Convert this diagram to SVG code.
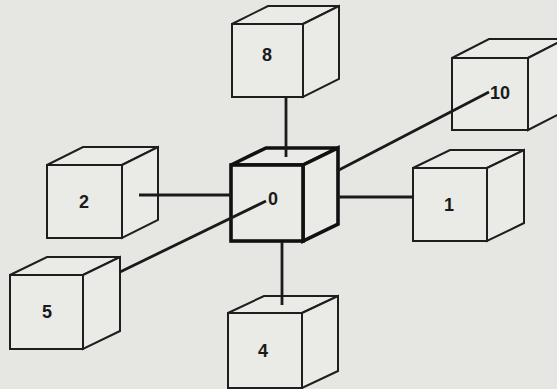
<svg xmlns="http://www.w3.org/2000/svg" width="557" height="389" viewBox="0 0 557 389">
<style>
.bg{fill:#e6e6e3}
.face{fill:#eaeae7;stroke:#1e1e1e;stroke-width:2;stroke-linejoin:miter}
.main .face{stroke:#111;stroke-width:3.6}
.lbl{font-family:"Liberation Sans",Arial,sans-serif;font-weight:bold;font-size:18px;fill:#1a1a1a;text-anchor:middle}
.conn line{stroke:#1a1a1a;stroke-width:2.8;stroke-linecap:butt}
</style>
<rect class="bg" x="0" y="0" width="557" height="389"/>

<g id="node8">
<path class="face" d="M232,24 L268,6 L339,6 L303,24 Z"/>
<path class="face" d="M303,24 L339,6 L339,79 L303,97 Z"/>
<rect class="face" x="232" y="24" width="71" height="73"/>
<text class="lbl" x="267" y="61">8</text>
</g>

<g id="node10">
<path class="face" d="M452,58 L489,39 L565,39 L528,58 Z"/>
<path class="face" d="M528,58 L565,39 L565,111 L528,130 Z"/>
<rect class="face" x="452" y="58" width="76" height="72"/>
</g>

<g id="node1">
<path class="face" d="M413,168 L450,150 L524,150 L487,168 Z"/>
<path class="face" d="M487,168 L524,150 L524,223 L487,241 Z"/>
<rect class="face" x="413" y="168" width="74" height="73"/>
<text class="lbl" x="449" y="211">1</text>
</g>

<g id="node2">
<path class="face" d="M47,165 L83,147 L158,147 L122,165 Z"/>
<path class="face" d="M122,165 L158,147 L158,220 L122,238 Z"/>
<rect class="face" x="47" y="165" width="75" height="73"/>
<text class="lbl" x="84" y="208">2</text>
</g>

<g id="node5">
<path class="face" d="M10,275 L47,257 L120,257 L83,275 Z"/>
<path class="face" d="M83,275 L120,257 L120,331 L83,349 Z"/>
<rect class="face" x="10" y="275" width="73" height="74"/>
<text class="lbl" x="47" y="318">5</text>
</g>

<g id="node4">
<path class="face" d="M228,313 L264,296 L338,296 L302,313 Z"/>
<path class="face" d="M302,313 L338,296 L338,371 L302,388 Z"/>
<rect class="face" x="228" y="313" width="74" height="75"/>
<text class="lbl" x="263" y="357">4</text>
</g>

<g id="node0" class="main">
<path class="face" d="M231,165 L266,148 L338,148 L303,165 Z"/>
<path class="face" d="M303,165 L338,148 L338,224 L303,241 Z"/>
<rect class="face" x="231" y="165" width="72" height="76"/>
</g>

<g id="connectors" class="conn">
<line x1="286" y1="97" x2="286" y2="157"/>
<line x1="282" y1="242" x2="282" y2="305"/>
<line x1="139" y1="195" x2="231" y2="195"/>
<line x1="338" y1="197" x2="413" y2="197"/>
<line x1="337" y1="171" x2="489" y2="92"/>
<line x1="120" y1="272" x2="266" y2="201"/>
</g>

<text class="lbl" x="273" y="205">0</text>
<text class="lbl" x="500" y="99">10</text>
</svg>
